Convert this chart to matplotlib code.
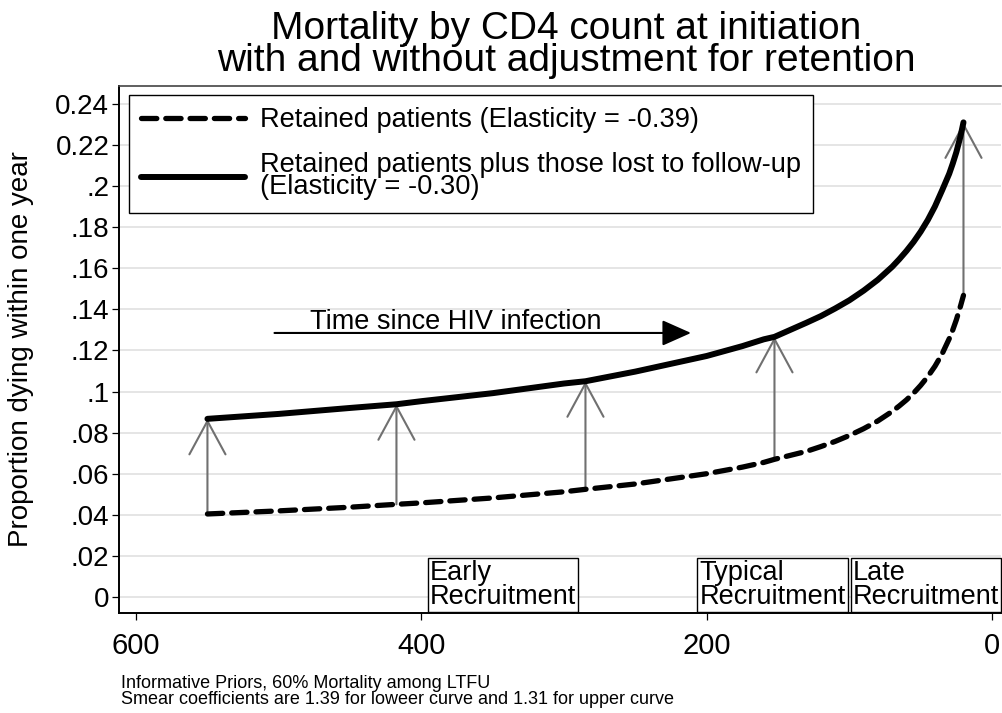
import matplotlib
matplotlib.use("Agg")
import matplotlib.pyplot as plt
from matplotlib.patches import FancyArrowPatch

plt.rcParams['font.family'] = ['Liberation Sans', 'DejaVu Sans']

# CD4 count at initiation and mortality
cd4 = [550, 500, 450, 417.5, 400, 350, 300, 285, 250, 200, 175, 160, 152.5, 130,
       120, 110, 100, 90, 80, 70, 65, 60, 55, 50, 45, 40, 35, 30, 27.5, 25, 22, 20]
retained = [0.0404, 0.0419, 0.0437, 0.0451, 0.0458, 0.0482, 0.0512, 0.0524,
            0.0550, 0.0600, 0.0632, 0.0655, 0.0670, 0.0709, 0.0732, 0.0757,
            0.0786, 0.0819, 0.0857, 0.0903, 0.0930, 0.0959, 0.0992, 0.1030,
            0.1073, 0.1123, 0.1183, 0.1257, 0.1300, 0.1349, 0.1418, 0.1468]
with_ltfu = [0.0867, 0.0891, 0.0920, 0.0938, 0.0953, 0.0992, 0.1039, 0.1050,
             0.1097, 0.1173, 0.1221, 0.1254, 0.1266, 0.1335, 0.1367, 0.1404,
             0.1444, 0.1491, 0.1544, 0.1607, 0.1644, 0.1684, 0.1728, 0.1778,
             0.1835, 0.1901, 0.1979, 0.2060, 0.2110, 0.2165, 0.2245, 0.2310]

# arrows linking the two curves
arrow_x = [550, 417.5, 285, 152.5, 20]
arrow_lo = [0.0404, 0.0451, 0.0524, 0.0670, 0.1468]
arrow_hi = [0.0867, 0.0938, 0.1050, 0.1266, 0.2310]

yticks = [0, 0.02, 0.04, 0.06, 0.08, 0.10, 0.12, 0.14, 0.16, 0.18, 0.20, 0.22, 0.24]
ytick_labels = ['0', '.02', '.04', '.06', '.08', '.1', '.12', '.14', '.16', '.18',
                '.2', '0.22', '0.24']
xticks = [600, 400, 200, 0]

fig = plt.figure(figsize=(10.02, 7.13), dpi=100)
ax = fig.add_axes([119/1002, 100/713, 882/1002, 527/713])

ax.set_xlim(612, -6.3)
ax.set_ylim(-0.0078, 0.2487)

ax.set_yticks(yticks)
ax.set_yticklabels(ytick_labels)
ax.set_xticks(xticks)
ax.tick_params(axis='y', labelsize=20, length=5, width=0.9, pad=2)
ax.tick_params(axis='x', labelsize=21, length=5, width=0.9, pad=9)
ax.yaxis.grid(True, color='#e0e0e0', lw=1.2)
ax.set_axisbelow(True)
for s in ['left', 'bottom']:
    ax.spines[s].set_linewidth(1.4)
ax.spines['top'].set_linewidth(1.2)
ax.spines['top'].set_color('#444444')
ax.spines['right'].set_visible(False)

# grey arrows
for x, lo, hi in zip(arrow_x, arrow_lo, arrow_hi):
    arr = FancyArrowPatch((x, lo), (x, hi), arrowstyle='->,head_length=24,head_width=13',
                          mutation_scale=1, color='#707070', lw=1.5,
                          shrinkA=0, shrinkB=0, zorder=2)
    ax.add_patch(arr)

l1, = ax.plot(cd4, retained, color='black', lw=3.8, ls=(0, (2.9, 1.7)),
              dash_capstyle='round', solid_capstyle='round', zorder=3,
              label='Retained patients (Elasticity = -0.39)')
l2, = ax.plot(cd4, with_ltfu, color='black', lw=4.3, solid_capstyle='round', zorder=3,
              label='Retained patients plus those lost to follow-up\n(Elasticity = -0.30)')

leg = ax.legend(handles=[l1, l2], loc='upper left', bbox_to_anchor=(10/882, 1 - 9/527),
                borderaxespad=0, fontsize=19.6, handlelength=3.8, handletextpad=0.55,
                borderpad=0.45, labelspacing=0.7, fancybox=False, framealpha=1,
                edgecolor='black')
leg.get_frame().set_linewidth(1.0)
leg.get_texts()[1].set_linespacing(0.8)

# time arrow
ax.annotate('', xy=(211, 0.1285), xytext=(503, 0.1285),
            arrowprops=dict(arrowstyle='-|>,head_length=0.9,head_width=0.4',
                            mutation_scale=20, color='black', lw=1.5,
                            shrinkA=0, shrinkB=0))
ax.text(478, 0.1305, 'Time since HIV infection', fontsize=19.5, ha='left', va='baseline')

# recruitment boxes
box = dict(boxstyle='square,pad=0.08', fc='white', ec='black', lw=1)
for x, lab in [(394, 'Early\nRecruitment'), (205, 'Typical\nRecruitment'),
               (97.5, 'Late\nRecruitment')]:
    ax.text(x, -0.0062, lab, fontsize=19.5, ha='left', va='bottom',
            linespacing=0.9, bbox=box, zorder=4)

ax.set_ylabel('Proportion dying within one year', fontsize=20)
ax.yaxis.set_label_coords(-0.096, 0.5)

fig.text(0.565, 0.985, 'Mortality by CD4 count at initiation\nwith and without adjustment for retention',
         fontsize=28, ha='center', va='top', linespacing=0.88)

fig.text(121/1002, 5/713, 'Informative Priors, 60% Mortality among LTFU\n'
         'Smear coefficients are 1.39 for loweer curve and 1.31 for upper curve',
         fontsize=13, ha='left', va='bottom', linespacing=0.95)

fig.savefig('out.png', dpi=100)
